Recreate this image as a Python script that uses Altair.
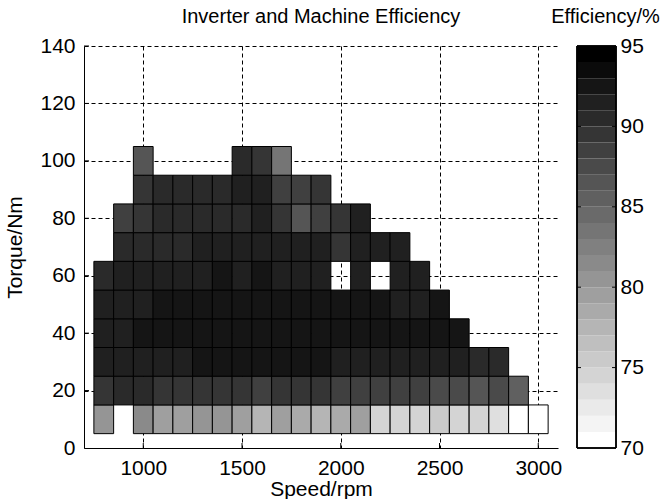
import altair as alt
import pandas as pd

# ---- data -------------------------------------------------------------
speeds = [800, 900, 1000, 1100, 1200, 1300, 1400, 1500, 1600, 1700, 1800, 1900,
          2000, 2100, 2200, 2300, 2400, 2500, 2600, 2700, 2800, 2900, 3000]
torques = [10, 20, 30, 40, 50, 60, 70, 80, 90, 100]

N = None
eff_10 = [80.3, N, 81.8, 79.5, 79.5, 80.1, 80.3, 79.5, 77.4, 79.5, 78.8, 77.5,
          78.5, 79.1, 74.4, 74.4, 74.9, 75.4, 74.4, 74.4, 73.9, 70.2, 70.2]
eff_20 = [89.6, 90.1, 90.1, 89.6, 89.6, 89.1, 89.6, 89.6, 88.6, 89.1, 89.1, 89.0,
          88.8, 88.6, 88.0, 88.0, 88.0, 87.8, 87.6, 86.7, 87.0, 85.0, N]
eff_30 = [91.1, 91.3, 91.6, 91.9, 91.9, 92.1, 92.1, 92.3, 92.3, 92.3, 92.1, 92.1,
          91.6, 91.6, 91.6, 91.3, 91.3, 91.1, 91.1, 90.9, 90.6, N, N]
eff_40 = [91.3, 91.9, 92.1, 92.3, 92.5, 92.6, 92.7, 92.7, 92.6, 92.5, 92.5, 92.5,
          92.3, 92.3, 92.5, 92.3, 92.1, 92.1, 92.3, N, N, N, N]
eff_50 = [91.3, 91.6, 91.9, 92.1, 92.5, 92.6, 92.6, 92.6, 92.5, 92.5, 92.5, 92.5,
          92.5, 92.5, 92.3, 91.1, 91.9, 92.1, N, N, N, N, N]
eff_60 = [90.9, 91.1, 91.1, 91.8, 91.6, 91.9, 92.1, 91.9, 92.3, 91.9, 91.6, 91.6,
          N, 91.6, N, 91.1, 91.6, N, N, N, N, N, N]
eff_70 = [N, 90.6, 90.6, 90.9, 90.9, 91.3, 91.6, 91.6, 91.6, 91.6, 91.3, 91.1,
          89.3, 91.3, 91.3, 91.1, N, N, N, N, N, N, N]
eff_80 = [N, 88.9, 89.9, 90.6, 90.5, 90.9, 90.6, 90.6, 91.0, 89.6, 86.7, 88.1,
          89.6, 91.1, N, N, N, N, N, N, N, N, N]
eff_90 = [N, N, 89.3, 90.5, 90.5, 90.8, 90.9, 91.1, 91.2, 88.9, 88.9, 89.1,
          N, N, N, N, N, N, N, N, N, N, N]
eff_100 = [N, N, 86.7, N, N, N, N, 90.6, 89.1, 83.7, N, N,
           N, N, N, N, N, N, N, N, N, N, N]

x_ticks = [1000, 1500, 2000, 2500, 3000]
y_ticks = [0, 20, 40, 60, 80, 100, 120, 140]
cbar_ticks = [70, 75, 80, 85, 90, 95]
cbar_inner_ticks = [75, 80, 85, 90]
cbar_levels = list(range(70, 95))  # 25 one-percent bands of the colour bar

# ---- tables -------------------------------------------------------------
rows_by_torque = [eff_10, eff_20, eff_30, eff_40, eff_50,
                  eff_60, eff_70, eff_80, eff_90, eff_100]
records = []
for tq, row in zip(torques, rows_by_torque):
    for sp, e in zip(speeds, row):
        if e is not None:
            records.append({"speed": sp, "torque": tq, "eff": e})
df = pd.DataFrame(records)

cb_df = pd.DataFrame({"lo": cbar_levels})

FONT = "Liberation Sans"
PW, PH = 474, 402
CBW = 39

grays = []
for i in range(25):
    g = round(255 * (1 - i / 24))
    grays.append(f"#{g:02x}{g:02x}{g:02x}")
cscale = alt.Scale(type="quantize", domain=[70, 95], range=grays)

xscale = alt.Scale(domain=[700, 3100], nice=False, zero=False)
yscale = alt.Scale(domain=[0, 140], nice=False, zero=False)

cells = alt.Chart(df).transform_calculate(
    x0="datum.speed - 50", x1="datum.speed + 50",
    y0="datum.torque - 5", y1="datum.torque + 5",
).mark_rect(stroke="black", strokeWidth=1).encode(
    x=alt.X("x0:Q", scale=xscale,
            axis=alt.Axis(values=x_ticks, title="Speed/rpm", grid=True,
                          labelPadding=9, titlePadding=0, labelFlush=False,
                          format="d")),
    x2="x1:Q",
    y=alt.Y("y0:Q", scale=yscale,
            axis=alt.Axis(values=y_ticks, title="Torque/Nm", grid=True,
                          labelPadding=9, titlePadding=14, format="d")),
    y2="y1:Q",
    fill=alt.Fill("eff:Q", scale=cscale, legend=None),
)

xtick_df = pd.DataFrame({"v": x_ticks})
ytick_df = pd.DataFrame({"v": y_ticks[1:]})
xticks_in = alt.Chart(xtick_df).mark_rule(color="black").encode(
    x=alt.X("v:Q", scale=xscale), y=alt.value(PH), y2=alt.value(PH - 5))
yticks_in = alt.Chart(ytick_df).mark_rule(color="black").encode(
    y=alt.Y("v:Q", scale=yscale), x=alt.value(0), x2=alt.value(5))

main = alt.layer(cells, xticks_in, yticks_in).properties(
    width=PW, height=PH,
    title=alt.Title("Inverter and Machine Efficiency", fontSize=20,
                    anchor="middle", offset=8),
)

cbscale = alt.Scale(domain=[70, 95], nice=False, zero=False)
bands = alt.Chart(cb_df).transform_calculate(
    hi="datum.lo + 1", mid="datum.lo + 0.5"
).mark_rect().encode(
    x=alt.value(0), x2=alt.value(CBW),
    y=alt.Y("lo:Q", scale=cbscale,
            axis=alt.Axis(orient="right", values=cbar_ticks, title=None,
                          grid=False, domain=False, ticks=False,
                          labelPadding=4, format="d")),
    y2="hi:Q",
    fill=alt.Fill("mid:Q", scale=cscale, legend=None),
)
ti_df = pd.DataFrame({"t": cbar_inner_ticks})
cb_tl = alt.Chart(ti_df).mark_rule(color="black").encode(
    y=alt.Y("t:Q", scale=cbscale), x=alt.value(0), x2=alt.value(4))
cb_tr = alt.Chart(ti_df).mark_rule(color="black").encode(
    y=alt.Y("t:Q", scale=cbscale), x=alt.value(CBW - 4), x2=alt.value(CBW))
cb_border = alt.Chart(ti_df).mark_rect(fill=None, stroke="black", strokeWidth=1).encode(
    x=alt.value(0), x2=alt.value(CBW),
    y=alt.datum(95, scale=cbscale), y2=alt.datum(70))

cbar = alt.layer(bands, cb_tl, cb_tr, cb_border).properties(
    width=CBW, height=PH,
    title=alt.Title("Efficiency/%", fontSize=20, anchor="middle", offset=8, dx=9),
)

chart = alt.hconcat(main, cbar, spacing=19, bounds="flush").resolve_scale(
    x="independent", y="independent", fill="shared"
).properties(
    padding={"left": 4, "top": 7, "right": 0, "bottom": 0},
    background="white",
).configure_view(stroke=None).configure_axis(
    labelFont=FONT, labelFontSize=21, labelColor="black",
    titleFont=FONT, titleFontSize=21, titleFontWeight="normal", titleColor="black",
    domainColor="black", domainWidth=1, ticks=False, tickSize=0,
    gridColor="black", gridDash=[4, 3], gridOpacity=1, gridWidth=1,
).configure_axisY(labelAngle=0).configure_title(
    font=FONT, fontWeight="normal", color="black",
)

chart.save("out.html", embed_options={"renderer": "svg", "actions": False})
